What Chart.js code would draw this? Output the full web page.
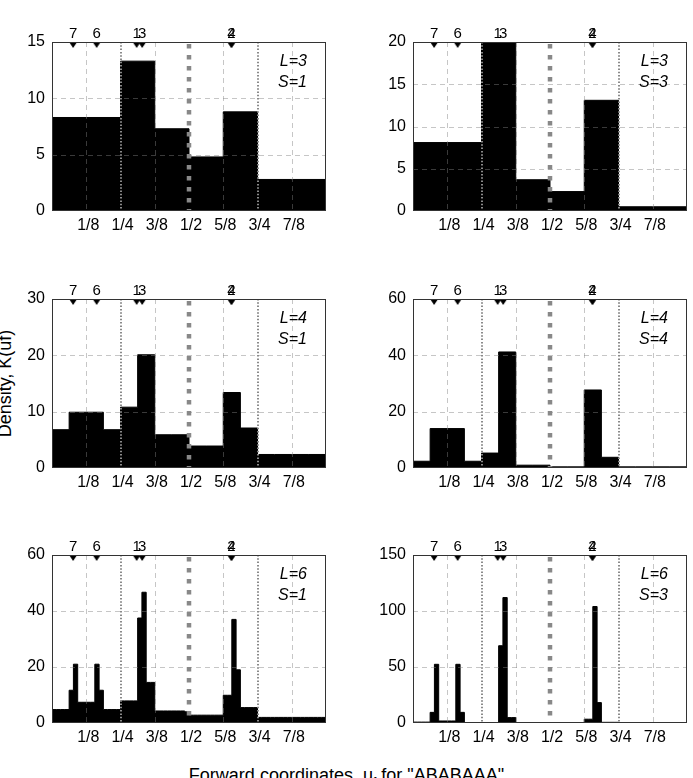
<!DOCTYPE html>
<html>
<head>
<meta charset="utf-8">
<script src="https://cdn.jsdelivr.net/npm/chart.js@4"></script>
<style>
  body { margin: 0; width: 693px; height: 778px; overflow: hidden; background: #fff; position: relative;
         font-family: "Liberation Sans", Arial, sans-serif; }
  canvas { position: absolute; }
  .ylabel { position: absolute; left: 0; top: 0; width: 200px; height: 18px; line-height: 18px; font-size: 18px;
            text-align: center; white-space: nowrap; transform-origin: 50% 50%; }
  .xlabel { position: absolute; left: 0; width: 693px; top: 766px; line-height: 18px; font-size: 18px; text-align: center; white-space: nowrap; }
</style>
</head>
<body>
<div class="ylabel" id="ylab">Density, K(uf)</div>
<div class="xlabel" id="xlab">Forward coordinates, u<sub style="font-size:12px">f</sub> for "ABABAAA"</div>
<script>
// x tick labels (every 1/8)
const fracLabels = ['', '1/8', '1/4', '3/8', '1/2', '5/8', '3/4', '7/8', ''];

// suffix markers on top edge
const markerU = [0.077, 0.163, 0.309, 0.329, 0.655, 0.655];
const markerText = ['7', '6', '1', '3', '2', '4'];

// histogram bins, 2^L bins over [0,1]
const binsL3S1 = [8.3, 8.3, 13.3, 7.3, 4.8, 8.8, 2.8, 2.8];
const binsL3S3 = [8.1, 8.1, 19.9, 3.7, 2.3, 13.1, 0.5, 0.5];
const binsL4S1 = [6.8, 9.9, 9.9, 6.8, 10.8, 20.1, 5.9, 5.9, 3.9, 3.9, 13.4, 7.1, 2.4, 2.4, 2.4, 2.4];
const binsL4S4 = [2.4, 14.0, 14.0, 2.4, 5.3, 41.2, 1.0, 1.0, 0.4, 0.4, 27.7, 3.8, 0.4, 0.4, 0.4, 0.4];
const binsL6S1 = [
  4.8, 4.8, 4.8, 4.8, 11.7, 21.0, 7.4, 7.4, 7.4, 7.4, 21.0, 11.7, 4.8, 4.8, 4.8, 4.8,
  7.9, 7.9, 7.9, 7.9, 37.5, 46.7, 14.5, 14.5, 4.3, 4.3, 4.3, 4.3, 4.3, 4.3, 4.3, 4.0,
  2.8, 2.8, 2.8, 2.8, 2.8, 2.8, 2.8, 2.8, 9.9, 9.9, 37.0, 19.0, 5.5, 5.5, 5.5, 5.5,
  2.0, 2.0, 2.0, 2.0, 2.0, 2.0, 2.0, 2.0, 2.0, 2.0, 2.0, 2.0, 2.0, 2.0, 2.0, 2.0
];
const binsL6S3 = [
  0.8, 0.8, 0.8, 0.8, 9.5, 52.4, 1.8, 1.8, 1.8, 1.8, 52.4, 9.5, 0.4, 0.4, 0.4, 0.4,
  0.4, 0.4, 0.4, 0.4, 69.0, 112.0, 4.8, 4.8, 0.3, 0.3, 0.3, 0.3, 0.3, 0.3, 0.3, 0.3,
  0.3, 0.3, 0.3, 0.3, 0.3, 0.3, 0.3, 0.3, 3.4, 3.4, 104.0, 18.2, 0.6, 0.6, 0.6, 0.6,
  0.3, 0.3, 0.3, 0.3, 0.3, 0.3, 0.3, 0.3, 0.3, 0.3, 0.3, 0.3, 0.3, 0.3, 0.3, 0.3
];

const panelBins = [binsL3S1, binsL3S3, binsL4S1, binsL4S4, binsL6S1, binsL6S3];
const panelL = [3, 3, 4, 4, 6, 6];
const panelS = [1, 3, 1, 4, 1, 3];
const yMaxes = [15, 20, 30, 60, 60, 150];
const ySteps = [5, 5, 10, 20, 20, 50];

// layout of plot areas in page pixels
const colLeft = [52, 413];
const rowTop = [42, 299, 555];
const rowBottom = [211, 468, 723];
const plotW = 274;
const FONT = '"Liberation Sans", Arial, sans-serif';

// axis titles
document.getElementById('ylab').style.transform = 'translate(' + (5 - 100) + 'px,' + (383.5 - 9) + 'px) rotate(-90deg)';

// down triangle, drawn below the point center
function makeTriangle() {
    const c = document.createElement('canvas');
    c.width = 10; c.height = 14;
    const g = c.getContext('2d');
    g.fillStyle = '#000';
    g.beginPath();
    g.moveTo(1, 7); g.lineTo(9, 7); g.lineTo(5, 13); g.closePath();
    g.fill();
    return c;
}
const tri = makeTriangle();

function hline(ctx, x0, x1, y) { ctx.beginPath(); ctx.moveTo(x0, y); ctx.lineTo(x1, y); ctx.stroke(); }
function vline(ctx, x, y0, y1) { ctx.beginPath(); ctx.moveTo(x, y0); ctx.lineTo(x, y1); ctx.stroke(); }

const overlay = {
    id: 'overlay',
    afterDatasetsDraw(chart, args, opts) {
        const ctx = chart.ctx, a = chart.chartArea, xs = chart.scales.x, ys = chart.scales.y;
        ctx.save();
        // light dashed grid, drawn on top of the bars like the original
        ctx.lineWidth = 1;
        ctx.strokeStyle = 'rgba(128,128,128,0.45)';
        ctx.setLineDash([5, 4]);
        ys.ticks.forEach(t => {
            if (t.value <= ys.min || t.value >= ys.max) return;
            hline(ctx, a.left, a.right, Math.round(ys.getPixelForValue(t.value)) + 0.5);
        });
        xs.ticks.forEach(t => {
            const k = Math.round(t.value * 8);
            if (k === 0 || k === 8 || k === 2 || k === 4 || k === 6) return;
            vline(ctx, Math.round(xs.getPixelForValue(t.value)) + 0.5, a.top, a.bottom);
        });
        // dotted lines at 1/4 and 3/4
        ctx.strokeStyle = '#8a8a8a';
        ctx.lineWidth = 2;
        ctx.setLineDash([1.5, 1.8]);
        [0.25, 0.75].forEach(v => vline(ctx, Math.round(xs.getPixelForValue(v)), a.top, a.bottom));
        // thick dashed line at 1/2
        ctx.strokeStyle = '#888';
        ctx.lineWidth = 4.5;
        ctx.setLineDash([4.5, 6.5]);
        vline(ctx, Math.round(xs.getPixelForValue(0.5)), a.top + 2, a.bottom);
        // frame
        ctx.setLineDash([]);
        ctx.lineWidth = 1;
        ctx.strokeStyle = '#333';
        ctx.strokeRect(a.left + 0.5, a.top + 0.5, a.width - 1, a.height - 1);
        // marker numbers
        ctx.fillStyle = '#000';
        ctx.font = '15px ' + FONT;
        ctx.textAlign = 'center';
        ctx.textBaseline = 'alphabetic';
        markerU.forEach((u, i) => ctx.fillText(markerText[i], xs.getPixelForValue(u), a.top - 4));
        // L / S annotation
        ctx.font = 'italic 16px ' + FONT;
        ctx.textAlign = 'right';
        ctx.textBaseline = 'middle';
        ctx.fillText('L=' + opts.L, a.right - 19, a.top + 20);
        ctx.fillText('S=' + opts.S, a.right - 19, a.top + 41);
        ctx.restore();
    }
};

function createPanel(p) {
    const col = p % 2, row = Math.floor(p / 2);
    const padRight = col === 0 ? 20 : 6;
    const plotH = rowBottom[row] - rowTop[row];
    const canvas = document.createElement('canvas');
    canvas.width = 52 + plotW + padRight;
    canvas.height = 42 + plotH + 40;
    canvas.style.left = (colLeft[col] - 52) + 'px';
    canvas.style.top = (rowTop[row] - 42) + 'px';
    document.body.appendChild(canvas);

    const bins = panelBins[p];
    const n = bins.length;
    const steps = bins.map((v, i) => ({ x: i / n, y: v }));
    steps.push({ x: 1, y: bins[n - 1] });
    const marks = markerU.map(u => ({ x: u, y: yMaxes[p] }));

    new Chart(canvas.getContext('2d'), {
        type: 'line',
        data: {
            datasets: [{
                data: marks,
                showLine: false,
                pointStyle: tri,
                pointRadius: 5,
                clip: false
            }, {
                data: steps,
                stepped: true,
                fill: 'origin',
                backgroundColor: '#000',
                borderColor: '#000',
                borderWidth: 1,
                pointRadius: 0
            }]
        },
        options: {
            responsive: false,
            animation: false,
            devicePixelRatio: 1,
            layout: { padding: { top: 42, right: padRight, bottom: 0, left: 0 } },
            plugins: { legend: { display: false }, tooltip: { enabled: false }, overlay: { L: panelL[p], S: panelS[p] } },
            scales: {
                x: {
                    type: 'linear', min: 0, max: 1,
                    grid: { display: false, drawTicks: false },
                    border: { display: false },
                    afterFit: s => { s.height = 40; },
                    ticks: {
                        stepSize: 0.125, autoSkip: false, maxRotation: 0, padding: 5, labelOffset: 2,
                        color: '#000', font: { family: 'Liberation Sans', size: 16 },
                        callback: v => fracLabels[Math.round(v * 8)]
                    }
                },
                y: {
                    min: 0, max: yMaxes[p],
                    grid: { display: false, drawTicks: false },
                    border: { display: false },
                    afterFit: s => { s.width = 52; },
                    ticks: { stepSize: ySteps[p], padding: 7, color: '#000', font: { family: 'Liberation Sans', size: 16 } }
                }
            }
        },
        plugins: [overlay]
    });
}

for (let p = 0; p < 6; p++) createPanel(p);
</script>
</body>
</html>
